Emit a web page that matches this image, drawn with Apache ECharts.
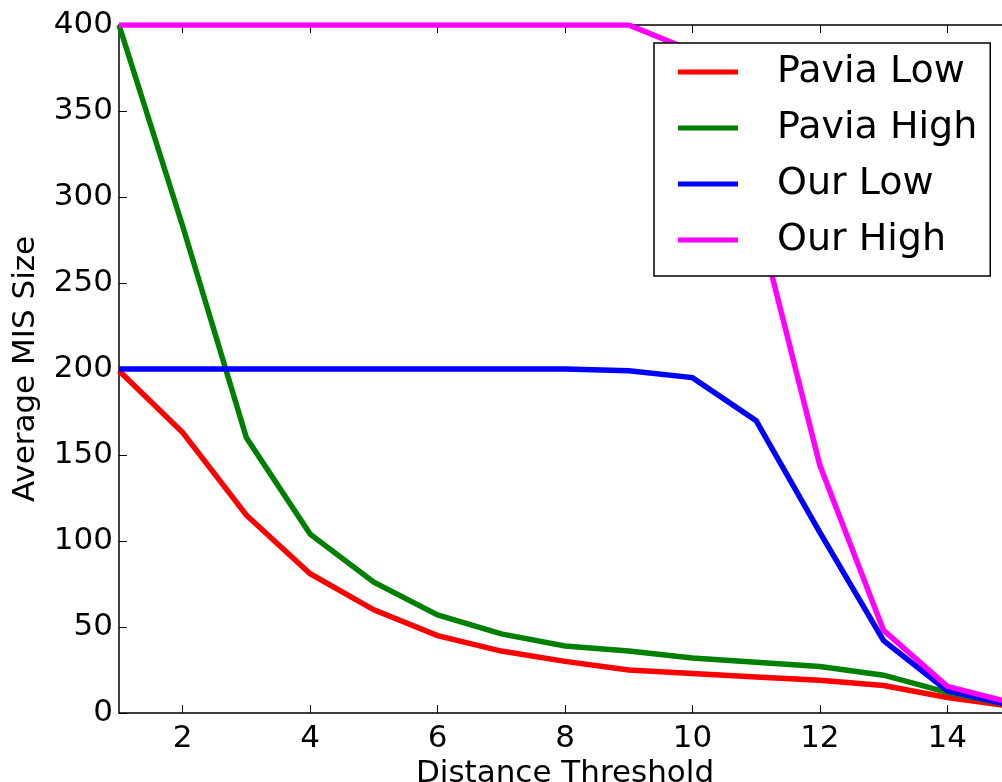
<!DOCTYPE html>
<html>
<head>
<meta charset="utf-8">
<script src="https://cdn.jsdelivr.net/npm/echarts@6/dist/echarts.min.js"></script>
<style>
html,body{margin:0;padding:0;background:#fff;}
#main{width:1002px;height:782px;}
</style>
</head>
<body>
<div id="main"></div>
<script>
var thresholds = [1, 2, 3, 4, 5, 6, 7, 8, 9, 10, 11, 12, 13, 14, 15];
var paviaLow  = [199, 163, 115, 81, 60, 45, 36, 30, 25, 23, 21, 19, 16, 9, 4];
var paviaHigh = [400, 283, 160, 104, 76, 57, 46, 39, 36, 32, 29.5, 27, 22, 12, 4.5];
var ourLow    = [200, 200, 200, 200, 200, 200, 200, 200, 199, 195, 170, 105, 42, 13, 4.5];
var ourHigh   = [400, 400, 400, 400, 400, 400, 400, 400, 400, 385, 291, 144, 48, 15.5, 6];
var xTicks = [2, 4, 6, 8, 10, 12, 14];
var seriesNames = ['Pavia Low', 'Pavia High', 'Our Low', 'Our High'];
var seriesColors = ['#ff0000', '#008000', '#0000ff', '#ff00ff'];

function pairs(ys) {
  return thresholds.map(function (x, i) { return [x, ys[i]]; });
}
var allData = [paviaLow, paviaHigh, ourLow, ourHigh];
var font = 'DejaVu Sans';

var chart = echarts.init(document.getElementById('main'), null, {renderer: 'canvas'});
chart.setOption({
  animation: false,
  backgroundColor: '#ffffff',
  textStyle: {fontFamily: font},
  grid: {left: 119, top: 25, width: 892, height: 688, containLabel: false, outerBoundsMode: 'none'},
  legend: {
    data: seriesNames,
    orient: 'vertical',
    left: 654,
    top: 43,
    z: 20,
    icon: 'rect',
    itemWidth: 60,
    itemHeight: 5,
    itemGap: 16,
    padding: [9, 13, 16, 24],
    backgroundColor: '#ffffff',
    borderColor: '#000000',
    borderWidth: 1.5,
    borderRadius: 0,
    textStyle: {fontFamily: font, fontSize: 38, color: '#000', lineHeight: 40, padding: [0, 0, 0, 34]}
  },
  xAxis: [{
    type: 'value',
    min: 1,
    max: 15,
    position: 'bottom',
    name: 'Distance Threshold',
    nameLocation: 'middle',
    nameGap: 40,
    nameTextStyle: {fontFamily: font, fontSize: 31, color: '#000'},
    axisLine: {show: true, onZero: false, lineStyle: {color: '#000', width: 1.5}},
    axisTick: {show: true, inside: true, length: 8, customValues: xTicks, lineStyle: {color: '#000', width: 1}},
    axisLabel: {show: true, customValues: xTicks, margin: 10, fontFamily: font, fontSize: 31, color: '#000'},
    splitLine: {show: false}
  }, {
    type: 'value',
    min: 1,
    max: 15,
    position: 'top',
    axisLine: {show: true, onZero: false, lineStyle: {color: '#000', width: 1.5}},
    axisTick: {show: true, inside: true, length: 8, customValues: xTicks, lineStyle: {color: '#000', width: 1}},
    axisLabel: {show: false},
    splitLine: {show: false}
  }],
  yAxis: [{
    type: 'value',
    min: 0,
    max: 400,
    interval: 50,
    position: 'left',
    name: 'Average MIS Size',
    nameLocation: 'middle',
    nameGap: 78,
    nameTextStyle: {fontFamily: font, fontSize: 31, color: '#000'},
    axisLine: {show: true, onZero: false, lineStyle: {color: '#000', width: 1.5}},
    axisTick: {show: true, inside: true, length: 8, lineStyle: {color: '#000', width: 1}},
    axisLabel: {show: true, margin: 6, fontFamily: font, fontSize: 31, color: '#000'},
    splitLine: {show: false}
  }],
  series: seriesNames.map(function (n, i) {
    return {
      name: n,
      type: 'line',
      xAxisIndex: 0,
      yAxisIndex: 0,
      data: pairs(allData[i]),
      showSymbol: false,
      symbol: 'none',
      color: seriesColors[i],
      lineStyle: {color: seriesColors[i], width: 5.5, join: 'miter'},
      clip: true,
      z: 2
    };
  })
});
</script>
</body>
</html>
